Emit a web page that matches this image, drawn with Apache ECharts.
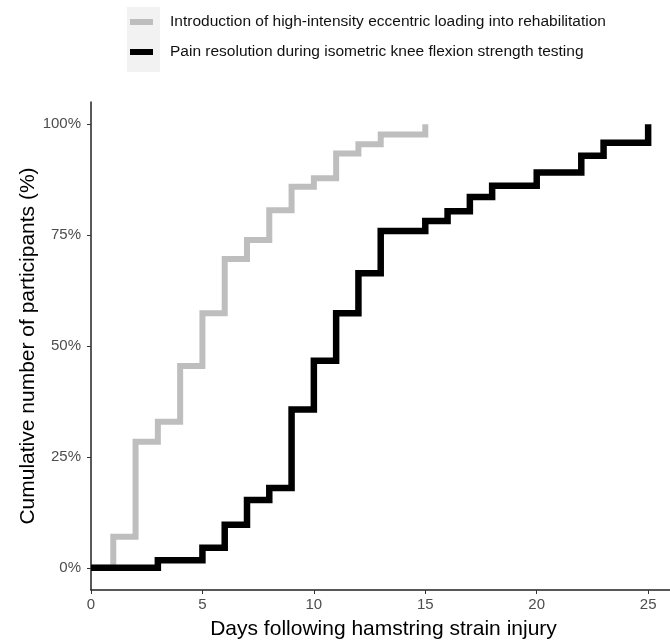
<!DOCTYPE html>
<html>
<head>
<meta charset="utf-8">
<script src="https://cdn.jsdelivr.net/npm/echarts@6/dist/echarts.min.js"></script>
<style>
	html, body { margin: 0; padding: 0; background: #fff; }
	#chart { width: 670px; height: 640px; }
</style>
</head>
<body>
<div id="chart"></div>
<script>
// series names
var seriesNames = [
	'Introduction of high-intensity eccentric loading into rehabilitation',
	'Pain resolution during isometric knee flexion strength testing'
];

// days at which each step happens, and cumulative % reached from that day on
var eccDays = [0, 1, 2, 3, 4, 5, 6, 7, 8, 9, 10, 11, 12, 13, 15];
var eccPct = [0, 7.0, 28.4, 32.9, 45.5, 57.4, 69.6, 73.9, 80.6, 85.9, 87.8, 93.4, 95.5, 97.7, 100];

var painDays = [0, 3, 5, 6, 7, 8, 9, 10, 11, 12, 13, 15, 16, 17, 18, 20, 22, 23, 25];
var painPct = [0, 1.7, 4.5, 9.7, 15.3, 18.0, 35.7, 46.7, 57.4, 66.4, 75.9, 78.2, 80.4, 83.6, 86.1, 89.1, 92.9, 95.8, 100];

// tick labels
var xTicks = [0, 5, 10, 15, 20, 25];
var yTicks = [0, 25, 50, 75, 100];

function pairs(xs, ys) {
	var out = [];
	for (var i = 0; i < xs.length; i++) {
		out.push([xs[i], ys[i]]);
	}
	return out;
}

var chart = echarts.init(document.getElementById('chart'));

var option = {
	animation: false,
	textStyle: { fontFamily: 'Liberation Sans, Arial, sans-serif' },
	graphic: [{
		// legend key background (ggplot style)
		type: 'rect',
		left: 127, top: 7,
		shape: { width: 33, height: 65 },
		style: { fill: '#f2f2f2' },
		z: -1
	}],
	legend: {
		orient: 'vertical',
		left: 130,
		top: 13,
		padding: 0,
		icon: 'rect',
		itemWidth: 23,
		itemHeight: 6,
		itemGap: 12,
		selectedMode: false,
		textStyle: {
			fontSize: 15.5,
			color: '#111',
			lineHeight: 18,
			padding: [0, 0, 0, 12]
		},
		data: seriesNames
	},
	grid: {
		left: 91,
		top: 102,
		width: 585,
		height: 488,
		containLabel: false,
		outerBoundsMode: 'none'
	},
	xAxis: {
		type: 'value',
		min: 0,
		max: 26.25,
		name: 'Days following hamstring strain injury',
		nameLocation: 'middle',
		nameGap: 29,
		nameMoveOverlap: false,
		nameTextStyle: { fontSize: 21, color: '#000' },
		axisLine: { onZero: false, lineStyle: { color: '#222', width: 1.5 } },
		axisTick: { show: true, length: 4, lineStyle: { color: '#333' }, customValues: xTicks },
		axisLabel: { fontSize: 15, color: '#4d4d4d', margin: 7, customValues: xTicks },
		splitLine: { show: false }
	},
	yAxis: {
		type: 'value',
		min: -5,
		max: 105,
		name: 'Cumulative number of participants (%)',
		nameLocation: 'middle',
		nameGap: 52,
		nameMoveOverlap: false,
		nameTextStyle: { fontSize: 21, color: '#000' },
		axisLine: { show: true, onZero: false, lineStyle: { color: '#222', width: 1.5 } },
		axisTick: { show: true, length: 4, lineStyle: { color: '#333' }, customValues: yTicks },
		axisLabel: {
			fontSize: 15, color: '#4d4d4d', margin: 10, customValues: yTicks,
			formatter: function(v) { return v + '%'; }
		},
		splitLine: { show: false }
	},
	series: [{
		name: seriesNames[0],
		type: 'line',
		step: 'end',
		showSymbol: false,
		color: '#bebebe',
		lineStyle: { color: '#bebebe', width: 6, join: 'miter', cap: 'butt' },
		data: pairs(eccDays, eccPct),
		z: 2
	}, {
		name: seriesNames[1],
		type: 'line',
		step: 'end',
		showSymbol: false,
		color: '#000',
		lineStyle: { color: '#000', width: 6.5, join: 'miter', cap: 'butt' },
		data: pairs(painDays, painPct),
		z: 3
	}]
};

chart.setOption(option);
</script>
</body>
</html>
